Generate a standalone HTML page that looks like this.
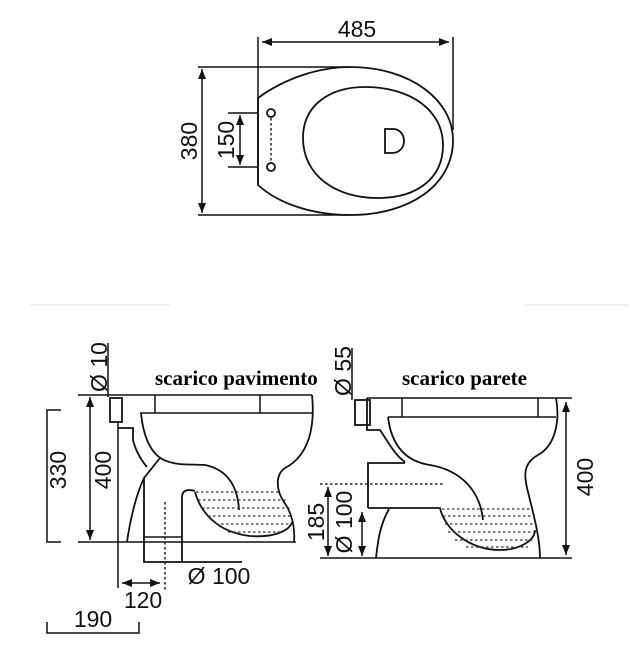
<!DOCTYPE html>
<html><head><meta charset="utf-8"><style>
html,body{margin:0;padding:0;background:#fff}
svg{display:block}
.l{fill:none;stroke:#111;stroke-width:1.8}
.t{stroke:#111;stroke-width:1.5}
.d{fill:none;stroke:#222;stroke-width:1.5;stroke-dasharray:2.5 2.5}
.s{font-family:"Liberation Sans",sans-serif;font-size:23px;fill:#111}
.b{font-family:"Liberation Serif",serif;font-size:21px;font-weight:bold;fill:#000}
</style></head><body>
<svg width="639" height="662" viewBox="0 0 639 662">
<defs><marker id="a" viewBox="0 0 10 10" refX="10" refY="5" markerWidth="10" markerHeight="10" orient="auto-start-reverse" markerUnits="userSpaceOnUse"><path d="M0,1 L10,5 L0,9 z" fill="#111"/></marker></defs>
<line x1="30" y1="305" x2="170" y2="305" stroke="#e6e6e6"/>
<line x1="525" y1="305" x2="630" y2="305" stroke="#e6e6e6"/>
<!-- TOP VIEW -->
<line class="t" x1="258" y1="37" x2="258" y2="185"/>
<line class="t" x1="453" y1="37" x2="453" y2="130"/>
<line class="t" x1="262" y1="42" x2="449" y2="42" marker-start="url(#a)" marker-end="url(#a)"/>
<text class="s" x="357" y="37" text-anchor="middle">485</text>
<line class="t" x1="198" y1="67" x2="350" y2="67"/>
<line class="t" x1="198" y1="215" x2="350" y2="215"/>
<line class="t" x1="202" y1="69" x2="202" y2="213" marker-start="url(#a)" marker-end="url(#a)"/>
<text class="s" transform="translate(197,141) rotate(-90)" text-anchor="middle">380</text>
<line class="t" x1="228" y1="113" x2="258" y2="113"/>
<line class="t" x1="228" y1="167" x2="258" y2="167"/>
<line class="t" x1="240" y1="115" x2="240" y2="165" marker-start="url(#a)" marker-end="url(#a)"/>
<text class="s" transform="translate(234,140) rotate(-90)" text-anchor="middle">150</text>
<path class="l" d="M258,98 C285,78 320,67 350,67 C410,67 453,100 453,140 C453,185 410,215 350,215 C315,215 280,205 258,185 Z"/>
<circle class="l" cx="271" cy="113" r="4"/><circle class="l" cx="271" cy="167" r="4"/>
<line class="d" x1="271" y1="118" x2="271" y2="162" stroke-dasharray="2 2"/>
<path class="l" d="M303,138 C303,105 330,87 365,87 C410,87 443,110 443,145 C443,180 415,198 378,198 C335,198 303,175 303,138 Z"/>
<path class="l" d="M385,129 L393,129 C400,129 404,135 404,141 C404,148 399,153 392,153 L385,153 Z"/>
<!-- LEFT SIDE VIEW -->
<text class="b" x="155" y="385">scarico pavimento</text>
<line class="t" x1="78" y1="395" x2="312" y2="395"/>
<line class="t" x1="140" y1="413" x2="312" y2="413"/>
<line class="t" x1="155" y1="395" x2="155" y2="413"/><line class="t" x1="260" y1="395" x2="260" y2="413"/>
<line class="t" x1="108" y1="343" x2="108" y2="397"/>
<text class="s" transform="translate(107,367) rotate(-90)" text-anchor="middle">Ø 10</text>
<rect class="l" x="110" y="398" width="12" height="24"/>
<line class="t" x1="118" y1="422" x2="118" y2="588"/>
<path class="l" d="M118,428 L133,428 L133,440 C136,452 141,460 147,467"/>
<path class="l" d="M312,395 C315,425 310,455 285,468 C275,475 276,490 284,502 C293,515 295,530 294,542"/>
<path class="l" d="M141,413 C143,435 150,452 162,459 C175,466 190,464 205,465 C230,470 238,490 239,510"/>
<path class="l" d="M160,458 L144,478 C136,495 130,520 127,542"/>
<path class="l" d="M195,492 C200,510 215,532 250,536 C275,538 290,530 292,522"/>
<g stroke="#333" stroke-width="1.3" stroke-dasharray="2.5 2.5">
<line x1="196" y1="492" x2="280" y2="492"/><line x1="198" y1="500" x2="286" y2="500"/><line x1="202" y1="508" x2="290" y2="508"/><line x1="208" y1="516" x2="292" y2="516"/><line x1="216" y1="524" x2="291" y2="524"/><line x1="228" y1="532" x2="282" y2="532"/>
</g>
<line class="t" x1="78" y1="542" x2="296" y2="542"/>
<line class="t" x1="90" y1="397" x2="90" y2="540" marker-start="url(#a)" marker-end="url(#a)"/>
<text class="s" transform="translate(111,470) rotate(-90)" text-anchor="middle">400</text>
<path class="t" fill="none" d="M61,410 L47,410 L47,542 L61,542"/>
<text class="s" transform="translate(66,470) rotate(-90)" text-anchor="middle">330</text>
<path class="l" d="M144,478 L144,562 L242,562"/>
<path class="l" d="M182,562 L182,497 C182,490 188,489 195,491"/>
<line class="t" x1="144" y1="537" x2="182" y2="537"/>
<line class="d" x1="165" y1="502" x2="165" y2="590"/>
<text class="s" x="219" y="584" text-anchor="middle">Ø 100</text>
<line class="t" x1="122" y1="583" x2="160" y2="583" marker-start="url(#a)" marker-end="url(#a)"/>
<text class="s" x="143" y="608" text-anchor="middle">120</text>
<path class="t" fill="none" d="M47,622 L47,633 L139,633 L139,622"/>
<text class="s" x="93" y="627" text-anchor="middle">190</text>
<!-- RIGHT SIDE VIEW -->
<text class="b" x="402" y="385">scarico parete</text>
<line class="t" x1="352" y1="348" x2="352" y2="400"/>
<text class="s" transform="translate(351,371) rotate(-90)" text-anchor="middle">Ø 55</text>
<rect class="l" x="355" y="400" width="15" height="25"/>
<line class="t" x1="367" y1="398" x2="572" y2="398"/>
<line class="t" x1="388" y1="417" x2="556" y2="417"/>
<line class="t" x1="402" y1="398" x2="402" y2="417"/><line class="t" x1="538" y1="398" x2="538" y2="417"/>
<path class="l" d="M367,398 L367,430 L380,430 C390,445 395,455 405,462"/>
<path class="l" d="M556,398 C560,420 556,445 538,455 C520,465 525,480 530,500 C535,520 540,540 540,558"/>
<path class="l" d="M388,417 C392,450 410,462 430,465 C460,470 480,490 483,520"/>
<path class="l" d="M368,508 L368,463 L405,463"/>
<path class="l" d="M368,508 L440,508 C445,530 470,550 500,550 C520,550 535,540 535,530"/>
<path class="l" d="M389,509 C380,525 378,540 376,558"/>
<g stroke="#333" stroke-width="1.3" stroke-dasharray="2.5 2.5">
<line x1="442" y1="509" x2="532" y2="509"/><line x1="443" y1="516" x2="533" y2="516"/><line x1="445" y1="524" x2="534" y2="524"/><line x1="448" y1="532" x2="534" y2="532"/><line x1="455" y1="540" x2="533" y2="540"/><line x1="466" y1="547" x2="528" y2="547"/>
</g>
<line class="d" x1="320" y1="484" x2="445" y2="484"/>
<line class="t" x1="320" y1="558" x2="572" y2="558"/>
<line class="t" x1="566" y1="402" x2="566" y2="555" marker-start="url(#a)" marker-end="url(#a)"/>
<text class="s" transform="translate(593,477) rotate(-90)" text-anchor="middle">400</text>
<line class="t" x1="328" y1="487" x2="328" y2="556" marker-start="url(#a)" marker-end="url(#a)"/>
<text class="s" transform="translate(324,522) rotate(-90)" text-anchor="middle">185</text>
<line class="t" x1="362" y1="512" x2="362" y2="556" marker-start="url(#a)" marker-end="url(#a)"/>
<text class="s" transform="translate(352,522) rotate(-90)" text-anchor="middle">Ø 100</text>
</svg>
</body></html>
